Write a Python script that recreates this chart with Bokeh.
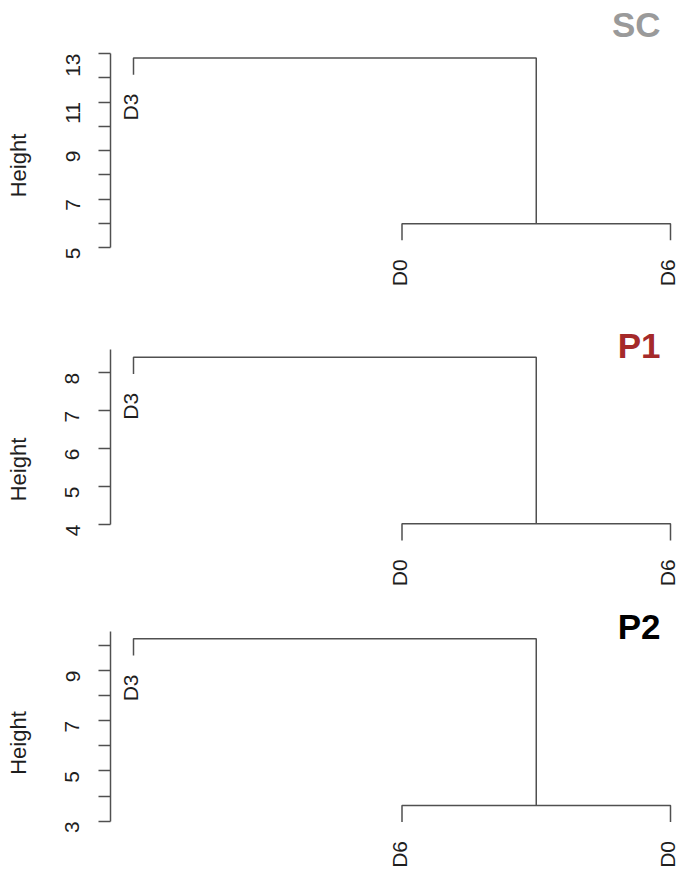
import math
from bokeh.plotting import figure
from bokeh.layouts import column
from bokeh.models import FixedTicker, Label, LinearAxis
from bokeh.core.properties import value
from bokeh.embed import file_html
from bokeh.resources import INLINE

# ---------------- data ----------------
panel_names = ["SC", "P1", "P2"]
title_colors = ["#9a9a9a", "#A52A2A", "#000000"]

sc_leaves = ["D3", "D0", "D6"]
p1_leaves = ["D3", "D0", "D6"]
p2_leaves = ["D3", "D6", "D0"]

# merge heights: [lower merge (leaf2, leaf3), top merge (leaf1, cluster)]
sc_merge_heights = [5.98, 12.81]
p1_merge_heights = [4.02, 8.41]
p2_merge_heights = [3.63, 10.26]

sc_major_ticks = [5, 7, 9, 11, 13]
sc_minor_ticks = [6, 8, 10, 12]
p1_major_ticks = [4, 5, 6, 7, 8]
p1_minor_ticks = []
p2_major_ticks = [3, 5, 7, 9]
p2_minor_ticks = [4, 6, 8, 10]

leaves_all = [sc_leaves, p1_leaves, p2_leaves]
merges_all = [sc_merge_heights, p1_merge_heights, p2_merge_heights]
majors_all = [sc_major_ticks, p1_major_ticks, p2_major_ticks]
minors_all = [sc_minor_ticks, p1_minor_ticks, p2_minor_ticks]

# ---------------- layout (page pixels) ----------------
FONT = "Liberation Sans"
LINE = "#505050"
TEXT = "#1e1e1e"
W = 678
LEFT = 110

def lin(va, pa, vb, pb, p):
    return va + (p - pa) * (vb - va) / (pb - pa)

X_A, X_B = (1, 133), (3, 670)
def xv(px):
    return lin(X_A[0], X_A[1], X_B[0], X_B[1], px)

# tick value/pixel pairs, frame top/bottom, title centre, axis top
specs = [
    dict(a=(13, 53), b=(5, 247), top=0, bot=330, tc=24, ax_top=13.0),
    dict(a=(8, 372.3), b=(4, 524), top=330, bot=608, tc=345, ax_top=8.62),
    dict(a=(9, 670), b=(3, 820.7), top=608, bot=877, tc=625.5, ax_top=10.57),
]

figs = []
for i in range(3):
    s = specs[i]
    def yv(px, s=s):
        return lin(s["a"][0], s["a"][1], s["b"][0], s["b"][1], px)

    p = figure(width=W, height=s["bot"] - s["top"],
               x_range=(xv(LEFT), xv(W)),
               y_range=(yv(s["bot"]), yv(s["top"])),
               output_backend="svg", toolbar_location=None,
               x_axis_location=None,
               min_border_left=LEFT, min_border_right=0,
               min_border_top=0, min_border_bottom=0)
    p.outline_line_color = None
    p.xgrid.visible = False
    p.ygrid.visible = False
    p.background_fill_color = "white"
    p.border_fill_color = "white"

    leaves = leaves_all[i]
    h_low, h_top = merges_all[i]
    hang = 0.1 * (h_top - h_low)
    leaf_x = [1, 2, 3]
    leaf_end = [h_top - hang, h_low - hang, h_low - hang]

    xs = [[2, 2, 3, 3], [1, 1, 2.5, 2.5]]
    ys = [[leaf_end[1], h_low, h_low, leaf_end[2]],
          [leaf_end[0], h_top, h_top, h_low]]
    p.multi_line(xs=xs, ys=ys, line_color=LINE, line_width=1.5)

    p.text(x=leaf_x, y=leaf_end, text=leaves, angle=math.pi / 2,
           text_align="right", text_baseline="middle",
           x_offset=-3, y_offset=19,
           text_font=value(FONT), text_font_size="21px", text_color=TEXT)

    ax = p.yaxis[0]
    ax.ticker = FixedTicker(ticks=majors_all[i], minor_ticks=minors_all[i])
    ax.bounds = (majors_all[i][0], s["ax_top"])
    ax.axis_line_color = LINE
    ax.axis_line_width = 1.5
    ax.major_tick_line_color = LINE
    ax.minor_tick_line_color = LINE
    ax.major_tick_line_width = 1.5
    ax.minor_tick_line_width = 1.5
    ax.major_tick_out = 12
    ax.major_tick_in = 0
    ax.minor_tick_out = 12
    ax.minor_tick_in = 0
    ax.major_label_orientation = math.pi / 2
    ax.major_label_standoff = 26
    ax.major_label_text_font = FONT
    ax.major_label_text_font_size = "21px"
    ax.major_label_text_color = TEXT

    # second, bare axis that only carries the "Height" label
    lab_ax = LinearAxis(ticker=FixedTicker(ticks=[], minor_ticks=[]),
                        axis_label="Height",
                        axis_label_standoff=25,
                        axis_label_text_font=FONT,
                        axis_label_text_font_style="normal",
                        axis_label_text_font_size="22px",
                        axis_label_text_color=TEXT,
                        axis_line_color=None,
                        major_tick_out=0, major_tick_in=0,
                        minor_tick_out=0, minor_tick_in=0,
                        major_label_text_font_size="0px")
    p.add_layout(lab_ax, "left")

    p.add_layout(Label(x=xv(660), y=yv(s["tc"]), text=panel_names[i],
                       text_align="right", text_baseline="middle",
                       text_font=FONT, text_font_style="bold",
                       text_font_size="35px", text_color=title_colors[i]))
    figs.append(p)

layout = column(*figs, spacing=0)
open("out.html", "w").write(file_html(layout, INLINE))
